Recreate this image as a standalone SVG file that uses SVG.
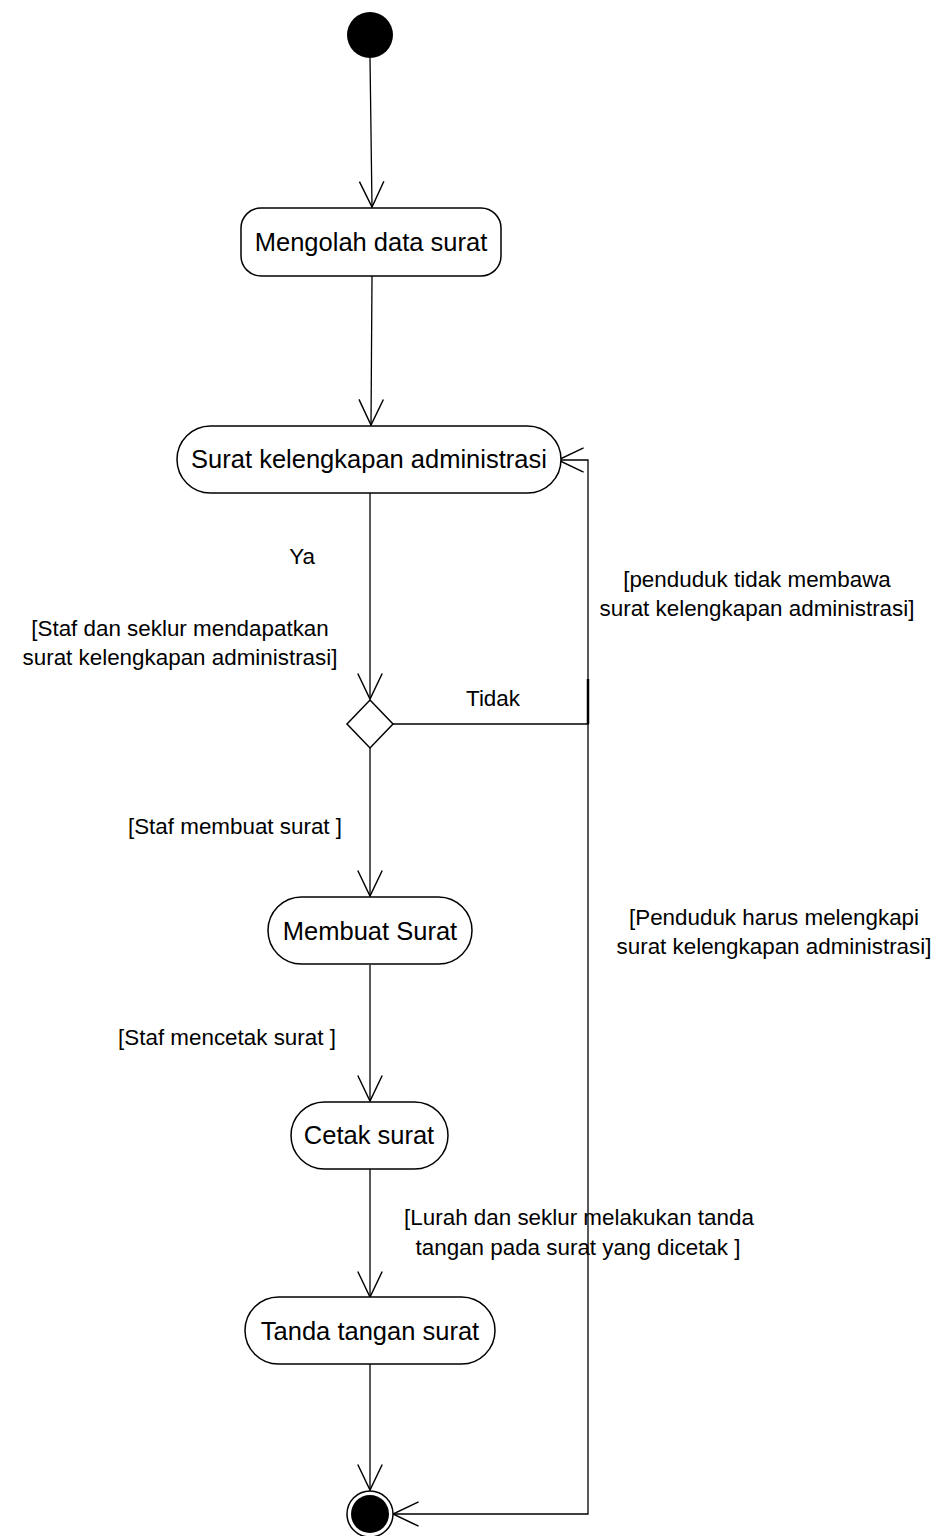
<svg xmlns="http://www.w3.org/2000/svg" width="941" height="1536" viewBox="0 0 941 1536">
<defs>
<style>
.node{fill:#fff;stroke:#000;stroke-width:1.5}
.ntext{font-family:"Liberation Sans",Arial,sans-serif;font-size:25.5px;fill:#000;text-anchor:middle}
.ltext{font-family:"Liberation Sans",Arial,sans-serif;font-size:22.4px;fill:#000;text-anchor:middle}
.edge{fill:none;stroke:#000;stroke-width:1.3}
</style>
<marker id="arr" markerUnits="userSpaceOnUse" markerWidth="30" markerHeight="30" viewBox="-25 -13 27 26" refX="0" refY="0" orient="auto">
<path d="M-23,-11 L0,0 L-23,11" fill="none" stroke="#000" stroke-width="1.3"/>
</marker>
</defs>
<rect width="941" height="1536" fill="#fff"/>

<g id="connectors">
<path class="edge" d="M370,58 L372,207" marker-end="url(#arr)"/>
<path class="edge" d="M372,276 L371,425" marker-end="url(#arr)"/>
<path class="edge" d="M370,493 L370,699" marker-end="url(#arr)"/>
<path class="edge" d="M393,724 L588,724 L588,460 L558,460" marker-end="url(#arr)"/>
<path class="edge" d="M588,724 L588,1514 L393,1514" marker-end="url(#arr)"/>
<path d="M588,679 L588,724" stroke="#000" stroke-width="2.5"/>
<path class="edge" d="M370,748 L370,896" marker-end="url(#arr)"/>
<path class="edge" d="M370,965 L370,1101" marker-end="url(#arr)"/>
<path class="edge" d="M370,1169 L370,1297" marker-end="url(#arr)"/>
<path class="edge" d="M370,1364 L370,1490" marker-end="url(#arr)"/>
</g>

<g id="start"><circle cx="370" cy="35" r="23" fill="#000"/></g>

<g id="n1"><rect class="node" x="241" y="208" width="260" height="68" rx="20"/><text class="ntext" x="371" y="251">Mengolah data surat</text></g>

<g id="n2"><rect class="node" x="177" y="426" width="384" height="67" rx="33.5"/><text class="ntext" x="369" y="468">Surat kelengkapan administrasi</text></g>

<g id="decision"><path class="node" d="M370,700 L393,724 L370,748 L347,724 Z"/></g>

<g id="n3"><rect class="node" x="268" y="897" width="204" height="67" rx="33.5"/><text class="ntext" x="370" y="940">Membuat Surat</text></g>

<g id="n4"><rect class="node" x="291" y="1102" width="157" height="67" rx="33.5"/><text class="ntext" x="369" y="1144">Cetak surat</text></g>

<g id="n5"><rect class="node" x="245" y="1297" width="250" height="67" rx="33.5"/><text class="ntext" x="370" y="1340">Tanda tangan surat</text></g>

<g id="end"><circle cx="370" cy="1514" r="23" fill="#fff" stroke="#000" stroke-width="1.5"/><circle cx="370" cy="1514" r="19" fill="#000"/></g>

<g id="labels">
<text class="ltext" x="302" y="564">Ya</text>
<text class="ltext" x="180" y="636">[Staf dan seklur mendapatkan</text>
<text class="ltext" x="180" y="665">surat kelengkapan administrasi]</text>
<text class="ltext" x="493" y="706">Tidak</text>
<text class="ltext" x="757" y="587">[penduduk tidak membawa</text>
<text class="ltext" x="757" y="616">surat kelengkapan administrasi]</text>
<text class="ltext" x="235" y="834">[Staf membuat surat ]</text>
<text class="ltext" x="774" y="925">[Penduduk harus melengkapi</text>
<text class="ltext" x="774" y="954">surat kelengkapan administrasi]</text>
<text class="ltext" x="227" y="1045">[Staf mencetak surat ]</text>
<text class="ltext" x="579" y="1225">[Lurah dan seklur melakukan tanda</text>
<text class="ltext" x="578" y="1255">tangan pada surat yang dicetak ]</text>
</g>
</svg>
